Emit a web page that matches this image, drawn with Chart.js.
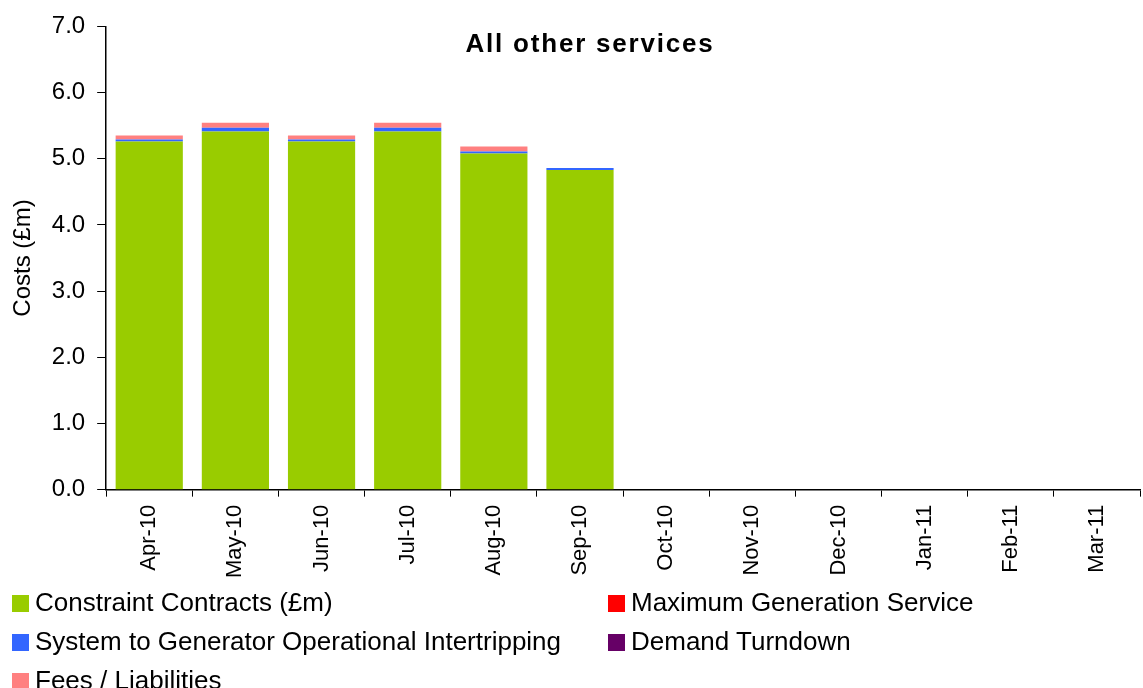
<!DOCTYPE html>
<html><head><meta charset="utf-8">
<script src="https://cdn.jsdelivr.net/npm/chart.js@4/dist/chart.umd.min.js"></script>
<style>
html,body{margin:0;padding:0;background:#fff;}
#wrap{position:relative;width:1143px;height:688px;overflow:hidden;}
canvas{position:absolute;left:0;top:0;}
.lg{position:absolute;font-family:"Liberation Sans",Arial,sans-serif;font-size:26px;color:#000;white-space:nowrap;line-height:26px;}
.lg i{display:inline-block;width:17px;height:17px;margin-right:6px;vertical-align:-1px;}
</style></head><body>
<div id="wrap"><canvas id="c" width="1143" height="688"></canvas><div id="legend"></div></div>
<script>
const categories = ["Apr-10","May-10","Jun-10","Jul-10","Aug-10","Sep-10","Oct-10","Nov-10","Dec-10","Jan-11","Feb-11","Mar-11"];
const constraintContracts = [5.26,5.41,5.26,5.41,5.08,4.83,0,0,0,0,0,0];
const maxGeneration = [0,0,0,0,0,0,0,0,0,0,0,0];
const intertripping = [0.03,0.06,0.03,0.06,0.03,0.03,0,0,0,0,0,0];
const demandTurndown = [0,0,0,0,0,0,0,0,0,0,0,0];
const feesLiabilities = [0.06,0.075,0.06,0.075,0.075,0,0,0,0,0,0,0];
const yTicks = [0,1,2,3,4,5,6,7];

const seriesNames = ["Constraint Contracts (£m)","Maximum Generation Service","System to Generator Operational Intertripping","Demand Turndown","Fees / Liabilities"];
const seriesColors = ["#99CC00","#FF0000","#3366FF","#660066","#FF8080"];
const seriesData = [constraintContracts,maxGeneration,intertripping,demandTurndown,feesLiabilities];

const FONT = "'Liberation Sans', Arial, sans-serif";

const titlePlugin = {
  id:'inTitle',
  afterDraw(chart){
    const ctx = chart.ctx;
    ctx.save();
    ctx.font = "bold 26px " + FONT;
    try { ctx.letterSpacing = "1.8px"; } catch(e) {}
    ctx.fillStyle = "#000";
    ctx.textAlign = "center";
    ctx.textBaseline = "middle";
    ctx.fillText("All other services", 590, 45);
    ctx.restore();
  }
};

new Chart(document.getElementById('c'), {
  type:'bar',
  data:{
    labels:categories,
    datasets: seriesNames.map((n,i)=>({label:n,data:seriesData[i],backgroundColor:seriesColors[i],borderWidth:0,barPercentage:0.78,categoryPercentage:1}))
  },
  options:{
    responsive:false,animation:false,
    layout:{padding:{top:18,right:3,bottom:102,left:5}},
    plugins:{legend:{display:false},tooltip:{enabled:false},title:{display:false}},
    scales:{
      x:{stacked:true,
        grid:{drawOnChartArea:false,drawTicks:true,tickLength:7,color:'#000',offset:true},
        border:{color:'#000',width:1.5},
        ticks:{color:'#000',font:{family:FONT,size:22},maxRotation:90,minRotation:90,padding:8}
      },
      y:{stacked:true,min:0,max:7,
        afterBuildTicks(s){s.ticks = yTicks.map(v=>({value:v}));},
        grid:{drawOnChartArea:false,drawTicks:true,tickLength:9,color:'#000'},
        border:{color:'#000',width:1.5},
        ticks:{color:'#000',font:{family:FONT,size:24},padding:12,callback:v=>Number(v).toFixed(1)},
        title:{display:true,text:"Costs (£m)",color:'#000',font:{family:FONT,size:24},padding:{bottom:2}}
      }
    }
  },
  plugins:[titlePlugin]
});

const legendPos = [[12,589],[608,589],[12,628],[608,628],[12,667]];
const lg = document.getElementById('legend');
seriesNames.forEach((n,i)=>{
  const d = document.createElement('div');
  d.className='lg';
  d.style.left = legendPos[i][0]+'px';
  d.style.top = legendPos[i][1]+'px';
  d.innerHTML = '<i style="background:'+seriesColors[i]+'"></i>'+n;
  lg.appendChild(d);
});
</script>
</body></html>
